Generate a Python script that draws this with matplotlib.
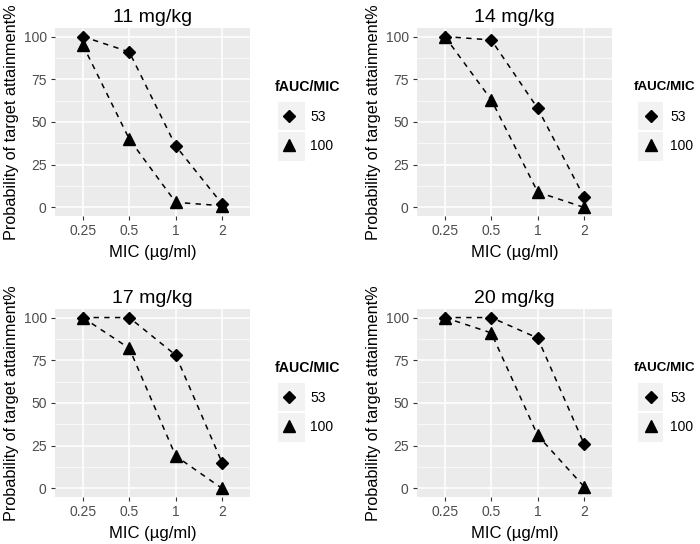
import matplotlib
matplotlib.use("Agg")
import matplotlib.pyplot as plt
from matplotlib.lines import Line2D
from matplotlib.patches import Rectangle

plt.rcParams['font.family'] = ['Liberation Sans', 'DejaVu Sans']

mic_labels = ["0.25", "0.5", "1", "2"]
doses = ["11 mg/kg", "14 mg/kg", "17 mg/kg", "20 mg/kg"]
pta_53 = [
    [100, 91, 36, 2],
    [100, 98, 58, 6],
    [100, 100, 78, 15],
    [100, 100, 88, 26],
]
pta_100 = [
    [95, 40, 3, 1],
    [100, 63, 9, 0],
    [100, 82, 19, 0],
    [100, 91, 31, 1],
]
legend_title = "fAUC/MIC"
series_labels = ["53", "100"]

W, H = 700, 544
fig = plt.figure(figsize=(W / 100, H / 100), dpi=100)

def fr(x0, y0, x1, y1):
    return [x0 / W, 1 - y1 / H, (x1 - x0) / W, (y1 - y0) / H]

panels = [(55, 28, 250, 216), (417, 28, 612, 216),
          (55, 309, 250, 497), (417, 309, 612, 497)]
# legend layout per panel: (title_x, title_fs, key_left, key_width, handlelength, handletextpad)
leg_layout = [(275, 10.2, 278, 27, 1.58, 0.72), (634, 9.6, 638, 25, 1.87, 0.43),
              (275, 10.2, 278, 27, 1.58, 0.72), (634, 9.6, 638, 25, 1.87, 0.43)]

bg = "#EBEBEB"
tickc = "#4D4D4D"
xs = list(range(1, len(mic_labels) + 1))
lfs = 10

for i, (x0, y0, x1, y1) in enumerate(panels):
    ax = fig.add_axes(fr(x0, y0, x1, y1))
    ax.set_facecolor(bg)
    for s in ax.spines.values():
        s.set_visible(False)
    ax.set_xlim(0.4, 4.6)
    ax.set_ylim(-5, 105)
    ax.set_yticks([0, 25, 50, 75, 100])
    ax.set_yticks([12.5, 37.5, 62.5, 87.5], minor=True)
    ax.set_xticks(xs)
    ax.set_xticklabels(mic_labels)
    ax.grid(True, which='major', color='white', linewidth=1.1)
    ax.grid(True, which='minor', axis='y', color='white', linewidth=0.5)
    ax.set_axisbelow(True)
    ax.tick_params(axis='both', which='major', colors='#333333', labelcolor=tickc,
                   labelsize=10, length=3, width=0.8, pad=3)
    ax.tick_params(axis='y', which='minor', length=0)
    ax.plot(xs, pta_53[i], color='black', linestyle=(0, (3.5, 3.5)), linewidth=1.1,
            marker='D', markersize=6, zorder=3)
    ax.plot(xs, pta_100[i], color='black', linestyle=(0, (3.5, 3.5)), linewidth=1.1,
            marker='^', markersize=8, zorder=3)
    ax.set_title(doses[i], fontsize=14, pad=4)
    ax.set_xlabel("MIC (\u00b5g/ml)", fontsize=12, labelpad=5)
    ax.set_ylabel("Probability of target attainment%", fontsize=11.7, labelpad=3)

    # legend
    tx, tfs, kl, kw, hl, tp = leg_layout[i]
    fig.text(tx / W, 1 - (y0 + 59) / H, legend_title, fontsize=tfs, fontweight='bold',
             ha='left', va='center')
    for top, hgt in [(y0 + 74, 28), (y0 + 104, 29)]:
        fig.patches.append(Rectangle((kl / W, 1 - (top + hgt) / H), kw / W, hgt / H,
                                     transform=fig.transFigure, facecolor='#F2F2F2',
                                     edgecolor='none', zorder=-1))
    handles = [Line2D([], [], color='black', marker='D', markersize=6, linestyle='None'),
               Line2D([], [], color='black', marker='^', markersize=8, linestyle='None')]
    ax.legend(handles, series_labels, loc='upper left', frameon=False,
              bbox_to_anchor=(kl / W, 1 - (y0 + 82) / H),
              bbox_transform=fig.transFigure, fontsize=lfs,
              handlelength=hl, handletextpad=tp, labelspacing=1.1,
              borderpad=0, borderaxespad=0)

fig.savefig("out.png", dpi=100, facecolor='white')
